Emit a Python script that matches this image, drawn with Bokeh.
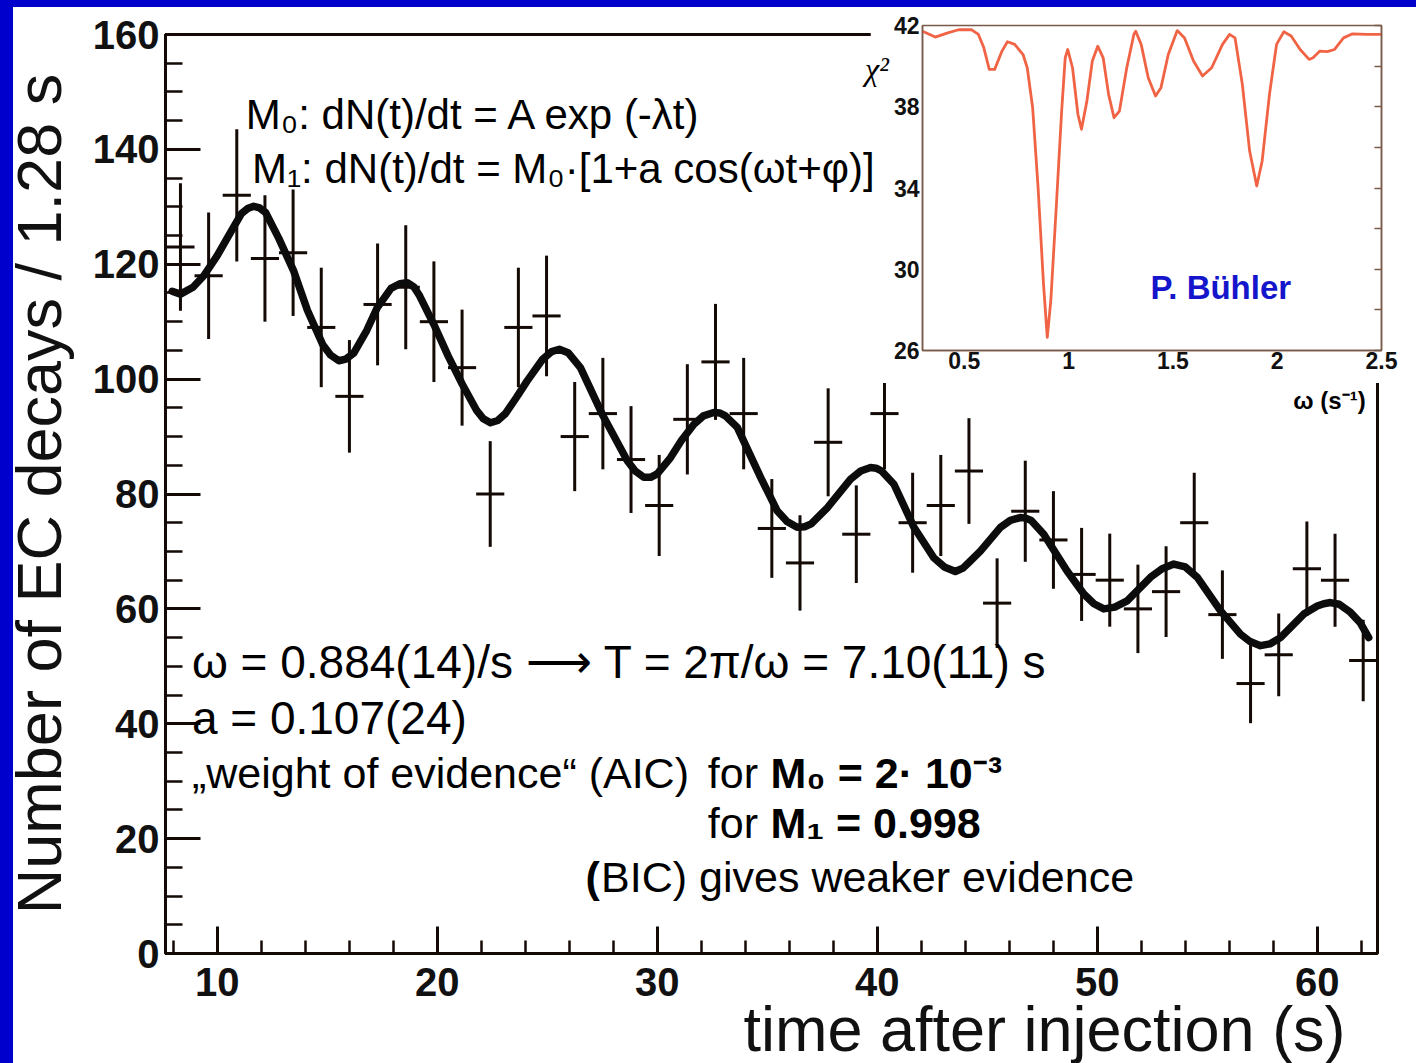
from bokeh.plotting import figure
from bokeh.models import (Range1d, SingleIntervalTicker, FixedTicker, Label, LinearAxis,
                          Div, NumeralTickFormatter, ColumnDataSource)
from bokeh.embed import file_html
from bokeh.resources import INLINE

# ---------------- data ----------------
bin_width = 1.28
time_s = [8.33, 9.61, 10.89, 12.17, 13.45, 14.73, 16.01, 17.29, 18.57, 19.85,
          21.13, 22.41, 23.69, 24.97, 26.25, 27.53, 28.81, 30.09, 31.37, 32.65,
          33.93, 35.21, 36.49, 37.77, 39.05, 40.33, 41.61, 42.89, 44.17, 45.45,
          46.73, 48.01, 49.29, 50.57, 51.85, 53.13, 54.41, 55.69, 56.97, 58.25,
          59.53, 60.81, 62.09]
counts = [123, 118, 132, 121, 122, 109, 97, 113, 116, 110,
          102, 80, 109, 111, 90, 94, 86, 78, 93, 103,
          94, 74, 68, 89, 73, 94, 75, 78, 84, 61,
          77, 72, 66, 65, 60, 63, 75, 59, 47, 52,
          67, 65, 51]
count_err = [11.1, 11.0, 11.5, 11.0, 11.0, 10.4, 9.8, 10.6, 10.8, 10.5,
             10.1, 9.2, 10.4, 10.5, 9.5, 9.7, 9.3, 8.8, 9.6, 10.1,
             9.7, 8.6, 8.3, 9.4, 8.5, 9.7, 8.7, 8.8, 9.2, 7.8,
             8.8, 8.5, 8.1, 8.1, 7.7, 7.9, 8.7, 7.7, 6.9, 7.2,
             8.2, 8.1, 7.1]

fit_time = [7.95, 8.33, 8.9, 9.39, 10.0, 10.6, 11.1, 11.38, 11.66, 11.93,
            12.2, 12.8, 13.48, 14.1, 14.8, 15.15, 15.53, 15.85, 16.2, 16.8,
            17.27, 17.9, 18.3, 18.64, 18.95, 19.2, 19.85, 20.5, 21.14, 21.8,
            22.1, 22.42, 22.75, 23.1, 23.6, 24.09, 24.8, 25.2, 25.55, 25.95,
            26.51, 27.5, 28.64, 29.0, 29.39, 29.7, 30.0, 30.6, 31.1, 31.66,
            32.1, 32.57, 32.85, 33.1, 33.64, 34.7, 35.45, 35.9, 36.36, 36.7,
            37.0, 37.73, 38.79, 39.25, 39.7, 39.95, 40.2, 40.76, 41.67, 42.57,
            43.05, 43.55, 43.9, 44.2, 44.7, 45.6, 46.05, 46.5, 46.75, 47.0,
            47.57, 48.63, 49.39, 49.85, 50.3, 50.8, 51.36, 52.42, 52.95, 53.48,
            54.0, 54.55, 55.6, 56.51, 56.95, 57.42, 57.85, 58.33, 59.39, 60.0,
            60.3, 60.6, 61.0, 61.51, 61.95, 62.34]
fit_counts = [115.3, 114.8, 116.0, 118.0, 121.5, 125.5, 128.8, 129.7, 130.1, 129.8,
              129.0, 124.5, 118.8, 112.0, 106.0, 104.2, 103.2, 103.5, 104.5, 108.5,
              112.4, 115.8, 116.6, 116.8, 116.0, 114.5, 109.5, 104.0, 99.1, 94.5,
              93.1, 92.4, 92.8, 94.0, 96.8, 99.7, 103.5, 104.8, 105.2, 104.6,
              102.0, 93.9, 85.8, 84.0, 82.9, 82.9, 83.5, 86.3, 89.3, 92.1,
              93.6, 94.2, 94.1, 93.6, 91.6, 82.9, 77.1, 75.2, 74.2, 74.3,
              74.8, 77.6, 82.6, 84.0, 84.6, 84.5, 84.0, 81.7, 74.2, 68.9,
              67.3, 66.5, 67.1, 68.2, 70.1, 74.2, 75.4, 75.9, 75.8, 75.4,
              73.0, 66.6, 62.6, 60.9, 60.0, 60.3, 61.4, 65.5, 67.0, 67.8,
              67.3, 65.5, 59.7, 55.6, 54.3, 53.6, 53.9, 55.0, 59.1, 60.5,
              60.9, 61.1, 60.8, 59.4, 57.6, 55.0]

omega = [0.300, 0.361, 0.421, 0.473, 0.534, 0.568, 0.594, 0.620, 0.646, 0.681,
         0.707, 0.742, 0.782, 0.802, 0.828, 0.854, 0.880, 0.898, 0.915, 0.941,
         0.967, 0.984, 0.996, 1.019, 1.045, 1.062, 1.088, 1.114, 1.140, 1.166,
         1.192, 1.218, 1.244, 1.279, 1.313, 1.322, 1.348, 1.382, 1.417, 1.443,
         1.478, 1.521, 1.556, 1.599, 1.642, 1.686, 1.738, 1.772, 1.798, 1.833,
         1.868, 1.902, 1.928, 1.963, 1.997, 2.032, 2.067, 2.110, 2.153, 2.172,
         2.205, 2.240, 2.275, 2.318, 2.361, 2.430, 2.500]
chi2 = [41.72, 41.43, 41.64, 41.79, 41.80, 41.56, 40.90, 39.84, 39.84, 40.74,
        41.20, 41.07, 40.57, 39.92, 37.95, 34.02, 29.27, 26.65, 28.45, 33.04,
        37.79, 40.41, 40.82, 39.92, 37.63, 36.89, 38.28, 40.25, 40.98, 40.41,
        38.61, 37.46, 37.79, 39.92, 41.56, 41.72, 41.07, 39.43, 38.53, 38.94,
        40.57, 41.75, 41.39, 40.25, 39.51, 39.92, 41.07, 41.56, 41.39, 39.10,
        35.82, 34.10, 35.33, 38.61, 41.07, 41.69, 41.48, 40.82, 40.33, 40.41,
        40.74, 40.71, 40.82, 41.39, 41.59, 41.56, 41.56]

inset_y_labels = [26, 30, 34, 38, 42]
inset_y_marks = [26, 28, 30, 32, 34, 36, 38, 40, 42]
inset_x_labels = [0.5, 1.0, 1.5, 2.0, 2.5]

# ---------------- styling / layout constants ----------------
INK = "#140a05"
FONT = "Liberation Sans"
BLUE = "#0000CC"
W, H = 1416, 1063
BL, BR, BT, BB = 165, 39, 34, 110          # main frame borders
X0, X1 = 7.65, 62.74
Y0, Y1 = 0.0, 160.0

xr = Range1d(X0, X1)
yr = Range1d(Y0, Y1)

main = figure(width=W, height=H, x_range=xr, y_range=yr,
              output_backend="svg", toolbar_location=None,
              min_border_left=BL, min_border_right=BR,
              min_border_top=BT, min_border_bottom=BB,
              background_fill_color="white", border_fill_color="white")
main.grid.visible = False
main.outline_line_color = INK
main.outline_line_width = 3

half = bin_width / 2.0
src = ColumnDataSource(dict(
    t=time_s, n=counts,
    lo=[n - e for n, e in zip(counts, count_err)],
    hi=[n + e for n, e in zip(counts, count_err)],
    left=[t - half for t in time_s],
    right=[t + half for t in time_s]))
main.segment(x0="t", y0="lo", x1="t", y1="hi", source=src, line_color=INK, line_width=3)
main.segment(x0="left", y0="n", x1="right", y1="n", source=src, line_color=INK, line_width=3)
main.line(fit_time, fit_counts, line_color="#0c0c0c", line_width=7.5,
          line_join="round", line_cap="round")

xa = main.xaxis[0]
ya = main.yaxis[0]
xa.ticker = SingleIntervalTicker(interval=10, num_minor_ticks=5)
ya.ticker = SingleIntervalTicker(interval=20, num_minor_ticks=4)
for ax in (xa, ya):
    ax.axis_line_color = INK
    ax.axis_line_width = 3
    ax.major_tick_line_color = INK
    ax.major_tick_line_width = 3
    ax.minor_tick_line_color = INK
    ax.minor_tick_line_width = 2.5
    ax.major_tick_out = 0
    ax.minor_tick_out = 0
    ax.major_label_text_font = FONT
    ax.major_label_text_font_style = "bold"
    ax.major_label_text_font_size = "40px"
    ax.major_label_text_color = "#111111"
xa.major_tick_in = 27
xa.minor_tick_in = 13
xa.major_label_standoff = 14
ya.major_tick_in = 35
ya.minor_tick_in = 17
ya.major_label_standoff = 6
ya.axis_label = "Number of EC decays / 1.28 s"
ya.axis_label_text_font = FONT
ya.axis_label_text_font_style = "normal"
ya.axis_label_text_font_size = "63px"
ya.axis_label_text_color = "#111111"
ya.axis_label_standoff = 16

# ---------------- inset ----------------
IN_INK = "#7a5a48"
ins = figure(width=546, height=376, x_range=Range1d(0.3, 2.5), y_range=Range1d(26, 42),
             output_backend="svg", toolbar_location=None, title=None,
             min_border_left=52, min_border_right=35, min_border_top=18, min_border_bottom=33,
             background_fill_color="white", border_fill_color="white",
             styles={"position": "absolute", "left": "870px", "top": "7px"})
ins.grid.visible = False
ins.outline_line_color = IN_INK
ins.outline_line_width = 1.5
ins.line(omega, chi2, line_color="#F06445", line_width=2.8, line_join="round")

ix = ins.xaxis[0]
iy = ins.yaxis[0]
ix.ticker = FixedTicker(ticks=inset_x_labels)
ix.formatter = NumeralTickFormatter(format="0.[0]")
iy.ticker = FixedTicker(ticks=inset_y_labels)
for ax in (ix, iy):
    ax.axis_line_color = IN_INK
    ax.axis_line_width = 1.5
    ax.major_tick_in = 0
    ax.major_tick_out = 0
    ax.minor_tick_line_color = None
    ax.major_label_text_font = FONT
    ax.major_label_text_font_style = "bold"
    ax.major_label_text_font_size = "23px"
    ax.major_label_text_color = "#111111"
ix.major_label_standoff = 1
iy.major_label_standoff = 3
rax = LinearAxis(ticker=FixedTicker(ticks=inset_y_marks), major_tick_in=7, major_tick_out=0,
                 minor_tick_line_color=None,
                 major_label_overrides={v: "" for v in inset_y_marks},
                 major_label_standoff=0, axis_line_color=IN_INK, axis_line_width=1.5,
                 major_tick_line_color=IN_INK, major_tick_line_width=1.5)
ins.add_layout(rax, "right")
ins.add_layout(Label(x=1.393, y=29.1, text="P. Bühler", text_font=FONT, text_font_style="bold",
                     text_font_size="33px", text_color="#1515CC", text_baseline="middle",
                     text_align="left"))

# ---------------- text overlay: whole canvas, same data scale as the main plot ----------------
sx = (W - BL - BR) / (X1 - X0)
sy = (H - BT - BB) / (Y1 - Y0)
ov = figure(width=W, height=H, title=None,
            x_range=Range1d(X0 - BL / sx, X1 + BR / sx),
            y_range=Range1d(Y0 - BB / sy, Y1 + BT / sy),
            output_backend="svg", toolbar_location=None,
            x_axis_type=None, y_axis_type=None,
            min_border_left=0, min_border_right=0, min_border_top=0, min_border_bottom=0,
            background_fill_color=None, border_fill_color=None,
            outline_line_color=None,
            styles={"position": "absolute", "left": "0px", "top": "0px"})


def add_text(x, y, text, size="43px", style="normal", align="left", baseline="middle",
             font=FONT, color="#000000"):
    ov.add_layout(Label(x=x, y=y, text=text, text_font=font, text_font_style=style,
                        text_font_size=size, text_align=align, text_baseline=baseline,
                        text_color=color))


add_text(11.30, 146.0, "M₀: dN(t)/dt = A exp (-λt)", size="42px")
add_text(11.58, 136.7, "M₁: dN(t)/dt = M₀·[1+a cos(ωt+φ)]", size="42px")
add_text(8.85, 50.8, "ω = 0.884(14)/s ⟶ T = 2π/ω = 7.10(11) s", size="46px")
add_text(8.85, 41.0, "a = 0.107(24)", size="46px")
add_text(8.85, 31.4, "„weight of evidence“ (AIC)")
add_text(32.3, 31.4, "for")
add_text(35.15, 31.4, "M₀ = 2· 10⁻³", style="bold")
add_text(32.3, 22.7, "for")
add_text(35.15, 22.7, "M₁ = 0.998", style="bold")
add_text(26.74, 13.3, "(", style="bold")
add_text(27.45, 13.3, "BIC)  gives weaker evidence")
add_text(61.29, -13.2, "time after injection (s)", size="63px", align="right",
         baseline="middle", color="#111111")
add_text(39.45, 154.0, "χ²", size="32px", style="italic", font="Liberation Serif")
add_text(62.2, 96.2, "ω (s⁻¹)", size="24px", style="bold", align="right")

# ---------------- blue frame strips ----------------
strip_left = Div(width=13, height=H, margin=0,
                 styles={"position": "absolute", "left": "0px", "top": "0px",
                         "background-color": BLUE})
strip_top = Div(width=W, height=7, margin=0,
                styles={"position": "absolute", "left": "0px", "top": "0px",
                        "background-color": BLUE})

open("out.html", "w").write(file_html([main, ins, ov, strip_left, strip_top], INLINE,
                                      title="EC decays"))
